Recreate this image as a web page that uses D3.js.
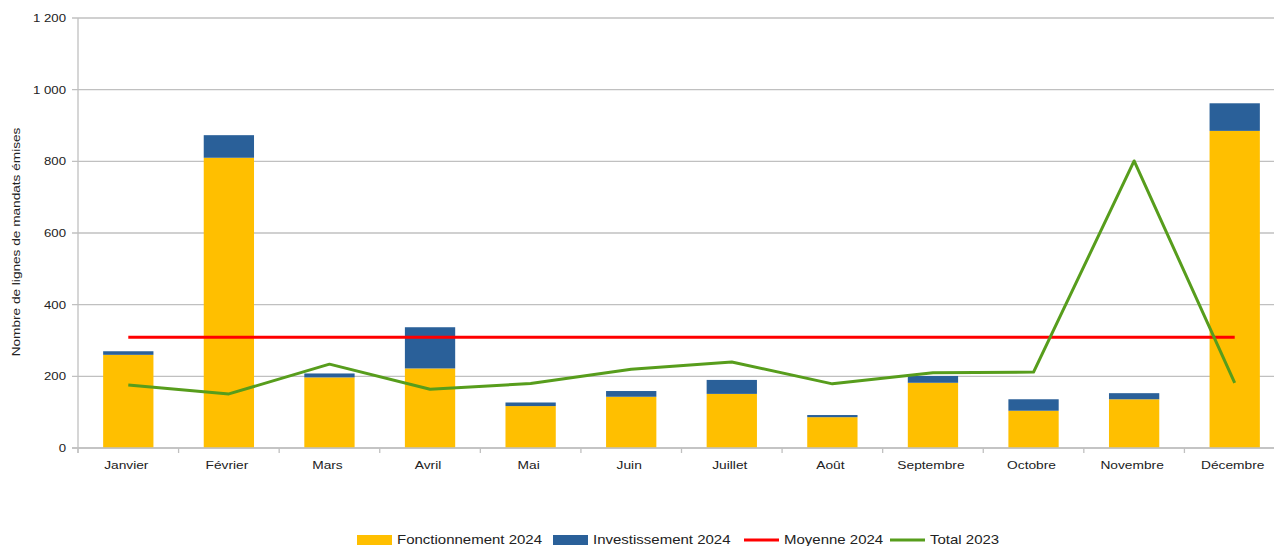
<!DOCTYPE html>
<html><head><meta charset="utf-8">
<script src="https://cdn.jsdelivr.net/npm/d3@7/dist/d3.min.js"></script>
<style>
html,body{margin:0;padding:0;background:#fff;overflow:hidden;}
text{font-family:"Liberation Sans",Arial,sans-serif;fill:#222;}
</style></head><body>
<svg id="c" width="1274" height="546"></svg>
<script>
const months = ["Janvier","Février","Mars","Avril","Mai","Juin","Juillet","Août","Septembre","Octobre","Novembre","Décembre"];
const fonctionnement2024 = [260,810,197,222,117,143,151,86,182,104,136,885];
const investissement2024 = [10,63,11,115,10,16,39,6,19,32,17,77];
const moyenne2024 = [309,309,309,309,309,309,309,309,309,309,309,309];
const total2023 = [176,151,234,164,180,220,240,179,210,212,801,182];
const yTicks = [0,200,400,600,800,1000,1200];
const yTickLabels = ["0","200","400","600","800","1 000","1 200"];
const legendItems = [
  {label:"Fonctionnement 2024", color:"#ffbf00", type:"rect"},
  {label:"Investissement 2024", color:"#2a6099", type:"rect"},
  {label:"Moyenne 2024", color:"#ff0000", type:"line"},
  {label:"Total 2023", color:"#579d1c", type:"line"}
];

(function(){
const svg = d3.select("#c");
const pL = 78, pR = 1285, pT = 18, pB = 448;
const x = d3.scaleBand().domain(months).range([pL, pR]).paddingInner(0.5).paddingOuter(0.25);
const y = d3.scaleLinear().domain([0,1200]).range([pB, pT]);
const step = x.step();

function wideText(parent, tx, ty, str, size, anchor, sx, rot) {
  const g = parent.append("g").attr("transform", `translate(${tx},${ty})${rot ? " rotate(" + rot + ")" : ""} scale(${sx},1)`);
  g.append("text").attr("x", 0).attr("y", 0).attr("dy", "0.35em")
    .attr("text-anchor", anchor).attr("font-size", size).text(str);
  return g;
}

svg.append("g").selectAll("line").data(yTicks).join("line")
  .attr("x1", pL - 6).attr("x2", pR)
  .attr("y1", d => y(d)).attr("y2", d => y(d))
  .attr("stroke", "#c0c0c0").attr("stroke-width", 1.3);

svg.append("line").attr("x1", pL).attr("x2", pL).attr("y1", pT).attr("y2", pB + 5)
  .attr("stroke", "#c0c0c0").attr("stroke-width", 1.3);

const yl = svg.append("g");
yTicks.forEach((d,i) => wideText(yl, 66, y(d), yTickLabels[i], 11, "end", 1.2));

wideText(svg, 16, 242, "Nombre de lignes de mandats émises", 10.5, "middle", 1.3, -90);

const bounds = d3.range(months.length + 1).map(i => pL + i * step);
svg.append("g").selectAll("line").data(bounds).join("line")
  .attr("x1", d => d).attr("x2", d => d).attr("y1", pB).attr("y2", pB + 5)
  .attr("stroke", "#c0c0c0").attr("stroke-width", 1.3);

const xl = svg.append("g");
months.forEach(m => wideText(xl, x(m) + x.bandwidth()/2 - 2, 465, m, 11, "middle", 1.25));

svg.append("g").selectAll("rect").data(months).join("rect")
  .attr("x", d => x(d)).attr("width", x.bandwidth())
  .attr("y", (d,i) => y(fonctionnement2024[i]))
  .attr("height", (d,i) => y(0) - y(fonctionnement2024[i]))
  .attr("fill", "#ffbf00");
svg.append("g").selectAll("rect").data(months).join("rect")
  .attr("x", d => x(d)).attr("width", x.bandwidth())
  .attr("y", (d,i) => y(fonctionnement2024[i] + investissement2024[i]))
  .attr("height", (d,i) => y(fonctionnement2024[i]) - y(fonctionnement2024[i] + investissement2024[i]))
  .attr("fill", "#2a6099");

svg.append("line").attr("x1", pL - 6).attr("x2", pR).attr("y1", pB).attr("y2", pB)
  .attr("stroke", "#c0c0c0").attr("stroke-width", 1.3);

const cx = d => x(d) + x.bandwidth()/2;
const line = d3.line().x(d => cx(d.m)).y(d => y(d.v));
svg.append("path").datum(months.map((m,i) => ({m, v: moyenne2024[i]})))
  .attr("d", line).attr("fill", "none").attr("stroke", "#ff0000").attr("stroke-width", 3);
svg.append("path").datum(months.map((m,i) => ({m, v: total2023[i]})))
  .attr("d", line).attr("fill", "none").attr("stroke", "#579d1c").attr("stroke-width", 3)
  .attr("stroke-linejoin", "round");

const lg = svg.append("g");
const legendX = [357, 553, 744, 890];
legendItems.forEach((it, i) => {
  const g = lg.append("g").attr("transform", `translate(${legendX[i]},540)`);
  if (it.type === "rect") {
    g.append("rect").attr("x", 0).attr("y", -5).attr("width", 35).attr("height", 10).attr("fill", it.color);
  } else {
    g.append("line").attr("x1", 0).attr("x2", 35).attr("y1", 0).attr("y2", 0)
      .attr("stroke", it.color).attr("stroke-width", 3);
  }
  wideText(g, 40, 0, it.label, 12.5, "start", 1.2);
});
})();
</script>
</body></html>
